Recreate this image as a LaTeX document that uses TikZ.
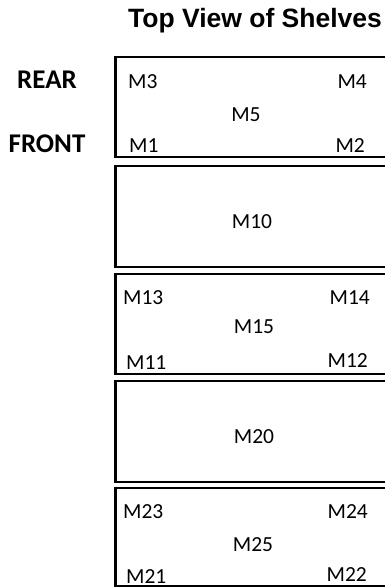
\documentclass[tikz,border=0pt]{standalone}
\usepackage{fontspec}
\setmainfont{Carlito}
\newfontfamily\headfont{Liberation Sans}
\usetikzlibrary{positioning}

\begin{document}
\begin{tikzpicture}[
    x=1pt, y=-1pt,
    shelf/.style={draw, line width=2.8pt, minimum width=300pt, anchor=north west, inner sep=0pt, outer sep=0pt},
    tag/.style={font=\fontsize{21.5}{24}\selectfont, inner sep=0pt},
    side/.style={font=\fontsize{27}{30}\selectfont\bfseries, inner sep=0pt, anchor=base},
    heading/.style={font=\headfont\fontsize{26.5}{30}\selectfont\bfseries, inner sep=0pt, anchor=base}
]
\useasboundingbox (0,0) rectangle (385,587);
\clip (0,0) rectangle (385,587);

\node[heading] (title) at (255,27) {Top View of Shelves};
\node[side] (rear) at (47,88) {REAR};
\node[side] (front) at (47,152) {FRONT};

% shelves, top to bottom
\node[shelf, minimum height=100pt] (shelf1) at (115.5,57) {};
\node[shelf, minimum height=101pt] (shelf2) at (115.5,166) {};
\node[shelf, minimum height=100pt] (shelf3) at (115.5,274) {};
\node[shelf, minimum height=101pt] (shelf4) at (115.5,381) {};
\node[shelf, minimum height=98pt] (shelf5) at (115.5,488) {};

\node[tag, anchor=base west] (m3) at (128,88) {M3};
\node[tag, anchor=base east] (m4) at (367,88) {M4};
\node[tag, anchor=base] (m5) at (246,121) {M5};
\node[tag, anchor=base west] (m1) at (129,152) {M1};
\node[tag, anchor=base east] (m2) at (365,152) {M2};

\node[tag, anchor=base] (m10) at (252,228) {M10};

\node[tag, anchor=base west] (m13) at (123,304) {M13};
\node[tag, anchor=base east] (m14) at (370,304) {M14};
\node[tag, anchor=base] (m15) at (254,333) {M15};
\node[tag, anchor=base west] (m11) at (126,369) {M11};
\node[tag, anchor=base east] (m12) at (368,367) {M12};

\node[tag, anchor=base] (m20) at (254,443) {M20};

\node[tag, anchor=base west] (m23) at (123,518) {M23};
\node[tag, anchor=base east] (m24) at (368,518) {M24};
\node[tag, anchor=base] (m25) at (253,551) {M25};
\node[tag, anchor=base west] (m21) at (126,583) {M21};
\node[tag, anchor=base east] (m22) at (367,581) {M22};
\end{tikzpicture}
\end{document}
